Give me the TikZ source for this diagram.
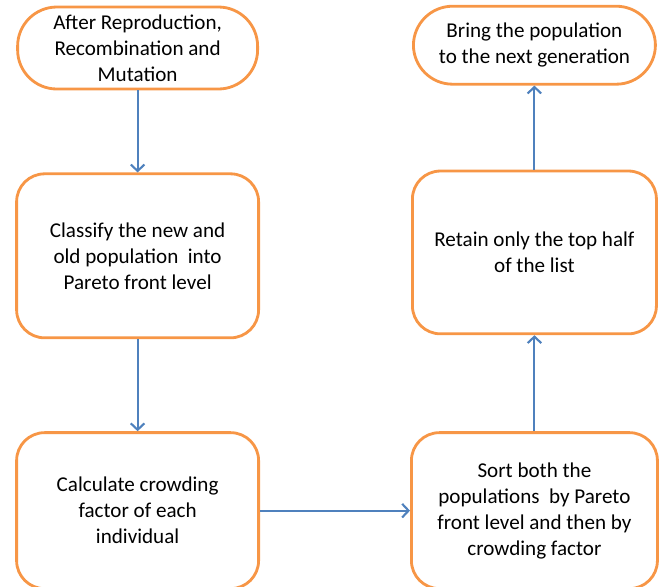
\documentclass[tikz,border=0pt]{standalone}
\usepackage{fontspec}
\setmainfont{Carlito}
\usepackage{tikz}
\usetikzlibrary{arrows.meta,positioning}
\definecolor{naranja}{RGB}{247,150,70}
\definecolor{azul}{RGB}{79,129,189}

\begin{document}
\begin{tikzpicture}[
terminal/.style={draw=naranja,line width=2pt,rounded corners=0.98cm,fill=white,align=center,font=\fontsize{15}{18.5}\selectfont},
proceso/.style={draw=naranja,line width=2pt,rounded corners=0.7cm,fill=white,align=center,font=\fontsize{15}{18.5}\selectfont},
arr/.style={-{Straight Barb[length=1.6mm,width=3.4mm]},draw=azul,line width=1.5pt}
]
\useasboundingbox (0,0) rectangle (16.525,-14.65);
\node[terminal,minimum width=6cm,minimum height=2.05cm] (after) at (3.44,-1.2) {After Reproduction,\\Recombination and\\Mutation};
\node[proceso,minimum width=6.05cm,minimum height=4.1cm,below=2.05cm of after] (clasif) {Classify the new and\\old population\ \ into\\Pareto front level};
\node[proceso,minimum width=6.05cm,minimum height=3.9cm,below=2.3cm of clasif] (calc) {Calculate crowding\\factor of each\\individual};
\node[proceso,minimum width=6.15cm,minimum height=3.9cm,right=3.75cm of calc] (sort) {Sort both the\\populations\ \ by Pareto\\front level and then by\\crowding factor};
\node[proceso,minimum width=6.1cm,minimum height=4.07cm,above=2.4cm of sort] (retain) {Retain only the top half\\of the list};
\node[terminal,minimum width=6.05cm,minimum height=1.95cm,above=2.1cm of retain] (bring) {Bring the population\\to the next generation};

\draw[arr] (after) -- (clasif);
\draw[arr] (clasif) -- (calc);
\draw[arr] (calc) -- (sort);
\draw[arr] (sort) -- (retain);
\draw[arr] (retain) -- (bring);
\end{tikzpicture}
\end{document}
